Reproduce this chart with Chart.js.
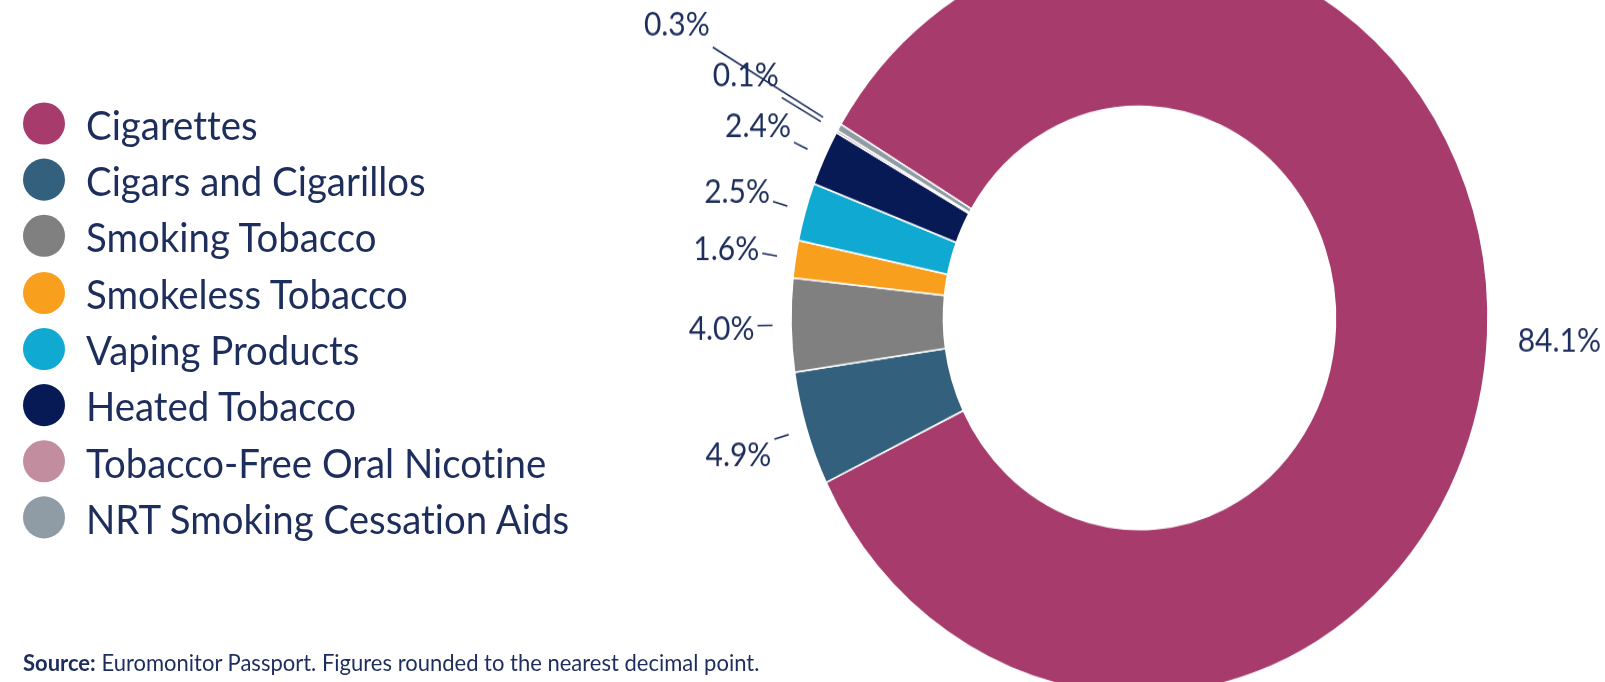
<!DOCTYPE html>
<html>
<head>
<meta charset="utf-8">
<script src="https://cdn.jsdelivr.net/npm/chart.js@4.4.1/dist/chart.umd.min.js"></script>
<style>
  html { overflow: hidden; }
  body { margin: 0; padding: 0; width: 1605px; height: 682px; background: #ffffff; }
  #page {
    position: relative; width: 1605px; height: 632px; overflow: hidden;
    transform: scaleY(1.079); transform-origin: 0 0;
    font-family: Lato, "Open Sans", sans-serif; color: #1d2d5c;
    font-variant-ligatures: none;
  }
  #chart { position: absolute; left: 0; top: -80px; }
  #legend { position: absolute; left: 0; top: 88.5px; margin: 0; padding: 0; list-style: none; }
  #legend li { display: flex; align-items: center; height: 52.2px; font-size: 38.4px; line-height: 1.2; white-space: nowrap; }
  #legend .dot { width: 42px; height: 39px; border-radius: 50%; margin-left: 23px; margin-right: 21px; }
  #source { position: absolute; left: 23px; top: 601px; font-size: 22px; line-height: 26px; white-space: nowrap; }
</style>
</head>
<body>
<div id="page">
  <canvas id="chart" width="1605" height="750"></canvas>
  <ul id="legend"></ul>
  <div id="source"><b>Source:</b> Euromonitor Passport. Figures rounded to the nearest decimal point.</div>
</div>
<script>
// data
var categories = [
  'Cigarettes',
  'Cigars and Cigarillos',
  'Smoking Tobacco',
  'Smokeless Tobacco',
  'Vaping Products',
  'Heated Tobacco',
  'Tobacco-Free Oral Nicotine',
  'NRT Smoking Cessation Aids'
];
var shares = [84.1, 4.9, 4.0, 1.6, 2.5, 2.4, 0.1, 0.3];

// style
var colours = ['#a63b6c', '#33607c', '#808080', '#f99f1e', '#10a9d1', '#071a55', '#c28d9f', '#8f9ca5'];
var leaderLengths = [0, 15, 15, 15, 15, 15, 45, 128];
var navy = '#1d2d5c';

// legend
var legend = document.getElementById('legend');
for (var i = 0; i < categories.length; i++) {
  var li = document.createElement('li');
  var dot = document.createElement('span');
  dot.className = 'dot';
  dot.style.background = colours[i];
  li.appendChild(dot);
  li.appendChild(document.createTextNode(categories[i]));
  legend.appendChild(li);
}

// percentage labels with short radial leader lines
var sliceLabels = {
  id: 'sliceLabels',
  afterDatasetsDraw: function(chart) {
    var ctx = chart.ctx;
    var meta = chart.getDatasetMeta(0);
    ctx.save();
    ctx.font = '30px Lato';
    ctx.fillStyle = navy;
    ctx.strokeStyle = navy;
    ctx.lineWidth = 1.5;
    ctx.textBaseline = 'middle';
    meta.data.forEach(function(arc, i) {
      var p = arc.getProps(['x', 'y', 'startAngle', 'endAngle', 'outerRadius'], true);
      var mid = (p.startAngle + p.endAngle) / 2;
      var cos = Math.cos(mid), sin = Math.sin(mid);
      var text = shares[i].toFixed(1) + '%';
      var dy = 40 * sin + (leaderLengths[i] > 15 ? 0 : 3);
      if (leaderLengths[i] === 0) {
        var r = p.outerRadius + 30;
        ctx.textAlign = 'left';
        ctx.fillText(text, p.x + r * cos, p.y + r * sin + dy);
        return;
      }
      var r1 = p.outerRadius + 18.5;
      var r2 = r1 + leaderLengths[i];
      ctx.beginPath();
      ctx.moveTo(p.x + r1 * cos, p.y + r1 * sin);
      ctx.lineTo(p.x + r2 * cos, p.y + r2 * sin);
      ctx.stroke();
      ctx.textAlign = 'right';
      ctx.fillText(text, p.x + r2 * cos - 3, p.y + r2 * sin + dy);
    });
    ctx.restore();
  }
};

var chart = new Chart(document.getElementById('chart').getContext('2d'), {
  type: 'doughnut',
  data: {
    labels: categories,
    datasets: [{
      data: shares,
      backgroundColor: colours,
      borderColor: '#ffffff',
      borderWidth: 1.5
    }]
  },
  options: {
    responsive: false,
    animation: false,
    rotation: -59,
    radius: 348.5,
    cutout: 196.5,
    layout: { padding: { left: 789.5, right: 115.5, top: 24.7, bottom: 25.3 } },
    plugins: {
      legend: { display: false },
      tooltip: { enabled: false }
    }
  },
  plugins: [sliceLabels]
});
</script>
</body>
</html>
